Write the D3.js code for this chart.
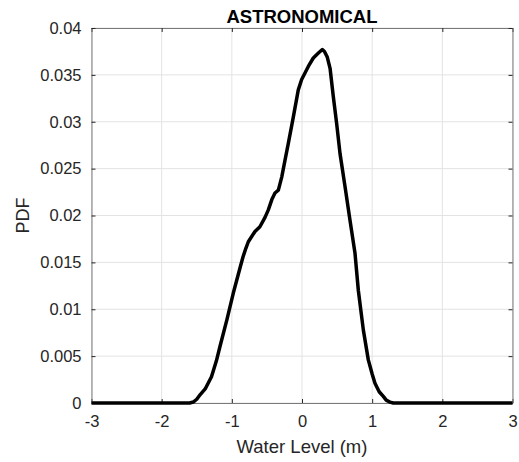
<!DOCTYPE html>
<html>
<head>
<meta charset="utf-8">
<script src="https://cdn.jsdelivr.net/npm/d3@7"></script>
<style>
  body { margin: 0; background: #fff; }
  text { font-family: "Liberation Sans", Arial, sans-serif; fill: #262626; }
</style>
</head>
<body>
<div id="chart"></div>
<script>
// Water level values (m) and estimated PDF.
const level = [-3, -1.6, -1.55, -1.5, -1.45, -1.38, -1.29, -1.22, -1.17, -1.07,
  -0.98, -0.88, -0.84, -0.8, -0.765, -0.67, -0.6, -0.527, -0.48, -0.43,
  -0.385, -0.337, -0.289, -0.242, -0.195, -0.124, -0.053, -0.005, 0.09, 0.161,
  0.23, 0.29, 0.32, 0.36, 0.4, 0.446, 0.494, 0.542, 0.613, 0.684,
  0.755, 0.803, 0.874, 0.945, 1.0, 1.04, 1.1, 1.159, 1.2, 1.254,
  1.3, 3];
const pdf = [0, 0, 0.0001, 0.0004, 0.0009, 0.0015, 0.0028, 0.0045, 0.006, 0.0089,
  0.0117, 0.0145, 0.0156, 0.0165, 0.0172, 0.0183, 0.0188, 0.0198, 0.0206, 0.0217,
  0.0224, 0.0227, 0.0241, 0.0259, 0.0277, 0.0305, 0.0334, 0.0345, 0.0359, 0.0368,
  0.0373, 0.0377, 0.0375, 0.0369, 0.0357, 0.0327, 0.0298, 0.0266, 0.0231, 0.0195,
  0.016, 0.012, 0.0078, 0.0046, 0.0031, 0.0021, 0.0012, 0.0007, 0.0003, 0.0001,
  0, 0];

const xTicks = [-3, -2, -1, 0, 1, 2, 3];
const yTicks = [0, 0.005, 0.01, 0.015, 0.02, 0.025, 0.03, 0.035, 0.04];

const title = 'ASTRONOMICAL',
  xLabel = 'Water Level (m)',
  yLabel = 'PDF';

// Dimensions of chart.
const W = 519, H = 462;
const margin = { top: 28, right: 6.5, bottom: 59, left: 91.5 },
  width = W - margin.left - margin.right,
  height = H - margin.top - margin.bottom;

const svg = d3.select('#chart')
  .append('svg')
  .attr('width', W)
  .attr('height', H);

const g = svg.append('g')
  .attr('transform', 'translate(' + margin.left + ',' + margin.top + ')');

const x = d3.scaleLinear().domain([-3, 3]).range([0, width]);
const y = d3.scaleLinear().domain([0, 0.04]).range([height, 0]);

// Grid lines
g.append('g')
  .selectAll('line')
  .data(xTicks)
  .join('line')
  .attr('x1', d => x(d)).attr('x2', d => x(d))
  .attr('y1', 0).attr('y2', height)
  .attr('stroke', '#e3e3e3');

g.append('g')
  .selectAll('line')
  .data(yTicks)
  .join('line')
  .attr('x1', 0).attr('x2', width)
  .attr('y1', d => y(d)).attr('y2', d => y(d))
  .attr('stroke', '#e3e3e3');

const fmt = d => String(+d.toFixed(3));

// Axes (ticks inward, box on all four sides)
const axisStyle = sel => {
  sel.select('.domain').attr('stroke', '#7a7a7a');
  sel.selectAll('.tick line').attr('stroke', '#262626');
  sel.selectAll('.tick text')
    .style('font-size', '16.5px')
    .attr('fill', '#262626');
};

g.append('g')
  .attr('transform', 'translate(0,' + height + ')')
  .call(d3.axisBottom(x).tickValues(xTicks).tickFormat(fmt).tickSizeInner(-4).tickSizeOuter(0).tickPadding(12))
  .call(axisStyle);

g.append('g')
  .call(d3.axisTop(x).tickValues(xTicks).tickFormat('').tickSizeInner(-4).tickSizeOuter(0))
  .call(axisStyle);

g.append('g')
  .call(d3.axisLeft(y).tickValues(yTicks).tickFormat(fmt).tickSizeInner(-4).tickSizeOuter(0).tickPadding(10))
  .call(axisStyle);

g.append('g')
  .attr('transform', 'translate(' + width + ',0)')
  .call(d3.axisRight(y).tickValues(yTicks).tickFormat('').tickSizeInner(-4).tickSizeOuter(0))
  .call(axisStyle);

g.selectAll('.domain').attr('stroke', '#7a7a7a').attr('stroke-width', 1);

// PDF curve
const line = d3.line()
  .x((d, i) => x(level[i]))
  .y(d => y(d));

g.append('path')
  .datum(pdf)
  .attr('fill', 'none')
  .attr('stroke', '#000')
  .attr('stroke-width', 3.5)
  .attr('stroke-linejoin', 'round')
  .attr('d', line);

// Labels
g.append('text')
  .attr('x', width / 2)
  .attr('y', -5.5)
  .attr('text-anchor', 'middle')
  .style('font-size', '18.5px')
  .style('font-weight', 'bold')
  .style('fill', '#000')
  .text(title);

g.append('text')
  .attr('x', width / 2)
  .attr('y', height + 50)
  .attr('text-anchor', 'middle')
  .style('font-size', '18.5px')
  .text(xLabel);

g.append('text')
  .attr('transform', 'translate(' + (29 - margin.left) + ',' + height / 2 + ') rotate(-90)')
  .attr('text-anchor', 'middle')
  .style('font-size', '18px')
  .text(yLabel);
</script>
</body>
</html>
